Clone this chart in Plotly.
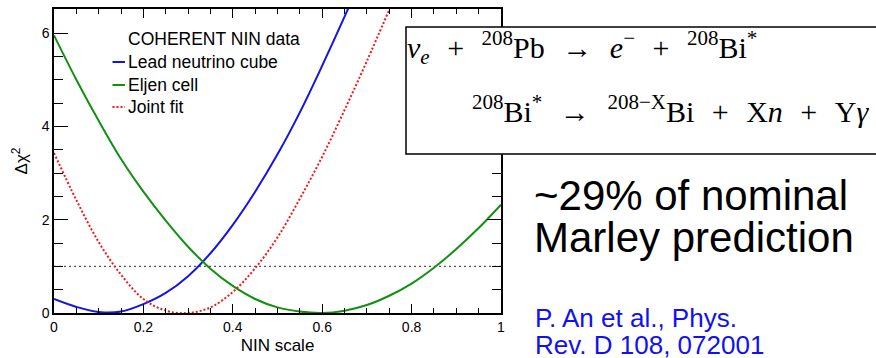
import plotly.graph_objects as go

# NIN normalisation scan (fraction of nominal MARLEY prediction)
NIN_SCALE = [0.0, 0.05, 0.10, 0.15, 0.20, 0.25, 0.30, 0.35, 0.40, 0.45, 0.50,
             0.55, 0.60, 0.65, 0.70, 0.75, 0.80, 0.85, 0.90, 0.95, 1.00]

# Delta chi^2 profiles
LEAD_CUBE = [0.30, 0.13, 0.02, 0.03, 0.19, 0.43, 0.79, 1.28, 1.89, 2.60, 3.40,
             4.30, 5.30, 6.35, 7.45]
ELJEN_CELL = [5.95, 5.00, 4.12, 3.30, 2.60, 1.98, 1.42, 0.95, 0.58, 0.30, 0.12,
              0.03, 0.00, 0.05, 0.17, 0.37, 0.63, 0.97, 1.37, 1.82, 2.32]
JOINT_FIT = [3.43, 2.42, 1.52, 0.82, 0.30, 0.05, 0.00, 0.12, 0.45, 0.96, 1.62,
             2.45, 3.35, 4.35, 5.40, 6.50]

ONE_SIGMA = 1.0

SERIES_NAMES = ["Lead neutrino cube", "Eljen cell", "Joint fit"]
LEGEND_TITLE = "COHERENT NIN data"
X_TITLE = "NIN scale"
Y_TITLE = "Δχ<sup>2</sup>"

SP = "\u2002\u200a"  # wider math-style spacing around operators
EQ_LINE1 = (f"<i>ν<sub>e</sub></i>{SP}+{SP}<sup>208</sup>Pb{SP}→{SP}<i>e</i><sup>−</sup>"
            f"{SP}+{SP}<sup>208</sup>Bi<sup>*</sup>")
EQ_LINE2 = (f"<sup>208</sup>Bi<sup>*</sup>{SP}→{SP}<sup>208−X</sup>Bi{SP}+{SP}X<i>n</i>"
            f"{SP}+{SP}Y<i>γ</i>")
NOTE_LINES = ["~29% of nominal", "Marley prediction"]
REF_LINES = ["P. An et al., Phys.", "Rev. D 108, 072001"]

BLUE = "#1414e6"
GREEN = "#119011"
RED = "#f01818"

W, H = 876, 358
ML, MR, MT, MB = 54, 375, 9, 45
PW, PH = W - ML - MR, H - MT - MB


def px(xp):
    return (xp - ML) / PW


def py(yp):
    return (H - MB - yp) / PH


fig = go.Figure()

fig.add_trace(go.Scatter(x=[0, 1], y=[ONE_SIGMA, ONE_SIGMA], mode="lines",
                         line=dict(color="#555555", width=1.3, dash="2px,3px"),
                         hoverinfo="skip"))
fig.add_trace(go.Scatter(x=NIN_SCALE[:len(LEAD_CUBE)], y=LEAD_CUBE, mode="lines",
                         name=SERIES_NAMES[0], line=dict(color=BLUE, width=2, shape="spline")))
fig.add_trace(go.Scatter(x=NIN_SCALE[:len(ELJEN_CELL)], y=ELJEN_CELL, mode="lines",
                         name=SERIES_NAMES[1], line=dict(color=GREEN, width=2, shape="spline")))
fig.add_trace(go.Scatter(x=NIN_SCALE[:len(JOINT_FIT)], y=JOINT_FIT, mode="lines",
                         name=SERIES_NAMES[2],
                         line=dict(color=RED, width=2, dash="2px,2px", shape="spline")))

axis_common = dict(showline=True, linecolor="black", linewidth=1.5, mirror="ticks",
                   ticks="inside", tickcolor="black", tickwidth=1, showgrid=False,
                   zeroline=False, automargin=False,
                   tickfont=dict(family="Liberation Sans", size=14, color="black"))

fig.update_xaxes(range=[0, 1], dtick=0.2, ticklen=9, tickformat="~g",
                 minor=dict(dtick=0.05, ticklen=5, ticks="inside", tickcolor="black", tickwidth=1),
                 title=dict(text=X_TITLE, font=dict(family="Liberation Sans", size=17, color="black"),
                            standoff=6),
                 **axis_common)
fig.update_yaxes(range=[0, 6.515], dtick=2, ticklen=14,
                 minor=dict(dtick=0.5, ticklen=9, ticks="inside", tickcolor="black", tickwidth=1),
                 title=dict(text=Y_TITLE, font=dict(family="Liberation Sans", size=17, color="black"),
                            standoff=10),
                 **axis_common)

shapes = []
annotations = []

# legend block
leg_font = dict(family="Liberation Sans", size=17.5, color="black")
annotations.append(dict(x=px(126), y=py(39.5), xref="paper", yref="paper", text=LEGEND_TITLE,
                        showarrow=False, xanchor="left", yanchor="middle", font=leg_font))
for name, col, dash, yc in [(SERIES_NAMES[0], BLUE, "solid", 62),
                            (SERIES_NAMES[1], GREEN, "solid", 85),
                            (SERIES_NAMES[2], RED, "2px,2px", 107)]:
    shapes.append(dict(type="line", xref="paper", yref="paper", x0=px(112.5), x1=px(125),
                       y0=py(yc), y1=py(yc), line=dict(color=col, width=2, dash=dash)))
    annotations.append(dict(x=px(126), y=py(yc), xref="paper", yref="paper", text=name,
                            showarrow=False, xanchor="left", yanchor="middle", font=leg_font))

# reaction box
shapes.append(dict(type="rect", xref="paper", yref="paper", x0=px(406), x1=px(878),
                   y0=py(154), y1=py(27), line=dict(color="black", width=1.5),
                   fillcolor="white", layer="above"))
eq_font = dict(family="Liberation Serif", size=30, color="black")
annotations.append(dict(x=px(405), y=py(47), xref="paper", yref="paper", text=EQ_LINE1,
                        showarrow=False, xanchor="left", yanchor="middle", font=eq_font))
annotations.append(dict(x=px(470), y=py(109), xref="paper", yref="paper", text=EQ_LINE2,
                        showarrow=False, xanchor="left", yanchor="middle", font=eq_font))

note_font = dict(family="Liberation Sans", size=42, color="black")
for txt, yc in zip(NOTE_LINES, [196, 237]):
    annotations.append(dict(x=px(532), y=py(yc), xref="paper", yref="paper", text=txt,
                            showarrow=False, xanchor="left", yanchor="middle", font=note_font))

ref_font = dict(family="Liberation Sans", size=26, color="#1010f0")
for txt, yc in zip(REF_LINES, [318, 345]):
    annotations.append(dict(x=px(533), y=py(yc), xref="paper", yref="paper", text=txt,
                            showarrow=False, xanchor="left", yanchor="middle", font=ref_font))

fig.update_layout(width=W, height=H, margin=dict(l=ML, r=MR, t=MT, b=MB),
                  paper_bgcolor="white", plot_bgcolor="white", showlegend=False,
                  shapes=shapes, annotations=annotations)

fig.write_html("out.html")
